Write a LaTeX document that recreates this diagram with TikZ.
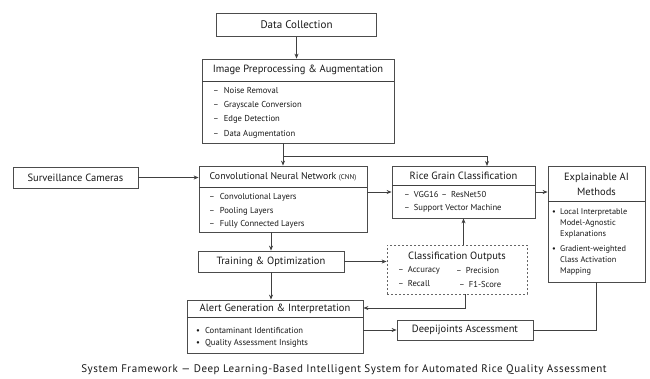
\documentclass[tikz,border=0pt]{standalone}
\usepackage{fontspec}
\setmainfont{PT Sans}
\usetikzlibrary{arrows.meta,calc}
\begin{document}
\begin{tikzpicture}[x=1pt,y=1pt,
  box/.style={draw=black!70,line width=0.8pt,fill=white,inner sep=0pt},
  dbox/.style={draw=black!60,line width=0.8pt,dashed,dash pattern=on 2pt off 2pt,fill=white,inner sep=0pt},
  ttl/.style={font=\fontsize{10.5}{12}\selectfont,text=black!90,inner sep=0pt},
  itm/.style={font=\fontsize{8.6}{11}\selectfont,text=black!90,anchor=west,inner sep=0pt},
  arr/.style={draw=black!75,line width=0.8pt,-{Stealth[length=5pt,width=4pt]}},
  ln/.style={draw=black!75,line width=0.8pt}]
\useasboundingbox[fill=white] (0,0) rectangle (650,-378);

% boxes
\node[box,minimum width=160,minimum height=23] (dc) at (296.5,-25) {};
\node[ttl,font=\fontsize{11}{13}\selectfont] at (dc) {Data Collection};

\node[box,minimum width=192,minimum height=84] (prep) at (298,-101) {};
\draw[ln] (202,-81) -- (394,-81);
\node[ttl] at (298,-70) {Image Preprocessing \& Augmentation};
\node[itm] at (213,-90) {–\hspace{5pt}Noise Removal};
\node[itm] at (213,-105) {–\hspace{5pt}Grayscale Conversion};
\node[itm] at (213,-119) {–\hspace{5pt}Edge Detection};
\node[itm] at (213,-134) {–\hspace{5pt}Data Augmentation};

\node[box,minimum width=125,minimum height=21] (surv) at (75.5,-177.5) {};
\node[ttl] at (surv) {Surveillance Cameras};

\node[box,minimum width=168,minimum height=66] (cnn) at (283,-199) {};
\draw[ln] (199,-187) -- (367,-187);
\node[ttl,font=\fontsize{9.8}{12}\selectfont] at (283,-177) {Convolutional Neural Network {\fontsize{7}{8}\selectfont(CNN)}};
\node[itm] at (209,-197) {–\hspace{5pt}Convolutional Layers};
\node[itm] at (209,-211) {–\hspace{5pt}Pooling Layers};
\node[itm] at (209,-224) {–\hspace{5pt}Fully Connected Layers};

\node[box,minimum width=146,minimum height=21] (train) at (271,-261.5) {};
\node[ttl] at (train) {Training \& Optimization};

\node[box,minimum width=143,minimum height=52] (rice) at (463.5,-192) {};
\draw[ln] (392,-185) -- (535,-185);
\node[ttl] at (463.5,-175.5) {Rice Grain Classification};
\node[itm] at (404,-194) {–\hspace{4pt}VGG16\hspace{3pt}–\hspace{4pt}ResNet50};
\node[itm] at (404,-208) {–\hspace{4pt}Support Vector Machine};

\node[box,minimum width=97,minimum height=116] (xai) at (596.5,-224) {};
\draw[ln] (548,-201) -- (645,-201);
\node[ttl,align=center,font=\fontsize{10.5}{15}\selectfont] at (596.5,-184) {Explainable AI\\Methods};
\node[itm,font=\fontsize{8.3}{11}\selectfont] at (552,-213) {•};
\node[itm,font=\fontsize{8.3}{11}\selectfont,anchor=north west,align=left] at (560,-208.5) {Local Interpretable\\Model-Agnostic\\Explanations};
\node[itm,font=\fontsize{8.3}{11}\selectfont] at (552,-250) {•};
\node[itm,font=\fontsize{8.3}{11}\selectfont,anchor=north west,align=left] at (560,-245.5) {Gradient-weighted\\Class Activation\\Mapping};

\node[dbox,minimum width=140,minimum height=49] (co) at (457,-269.5) {};
\node[ttl] at (457,-257) {Classification Outputs};
\node[itm] at (398,-270.5) {–\hspace{4pt}Accuracy};
\node[itm] at (456,-270.5) {–\hspace{4pt}Precision};
\node[itm] at (398,-284) {–\hspace{4pt}Recall};
\node[itm] at (459,-284) {–\hspace{4pt}F1-Score};

\node[box,minimum width=176,minimum height=53] (alert) at (275,-326.5) {};
\draw[ln] (187,-317) -- (363,-317);
\node[ttl] at (275,-308.5) {Alert Generation \& Interpretation};
\node[itm] at (196,-330) {•\hspace{5pt}Contaminant Identification};
\node[itm] at (196,-343) {•\hspace{5pt}Quality Assessment Insights};

\node[box,minimum width=136,minimum height=20] (dj) at (465,-330) {};
\node[ttl] at (dj) {Deepijoints Ascessment};

\node[inner sep=0pt,font=\fontsize{11}{13}\selectfont\addfontfeature{LetterSpace=5},text=black!90] (cap) at (344,-370) {System Framework — Deep Learning-Based Intelligent System for Automated Rice Quality Assessment};

% connectors
\draw[arr] (dc.south) -- (dc.south |- prep.north);
\coordinate (br) at (283,-156);
\coordinate (ricein) at (487,-166);
\draw[ln] (cnn.north |- prep.south) -- (br);
\draw[arr] (br) -- (cnn.north);
\draw[arr] (br) -| (ricein);
\draw[arr] (surv.east) -- (surv.east -| cnn.west);
\draw[arr] (rice.west -| cnn.east) -- (rice.west);
\draw[arr] (rice.east) -- (rice.east -| xai.west);
\draw[arr] (train.north |- cnn.south) -- (train.north);
\draw[arr] (train.south) -- (train.south |- alert.north);
\draw[arr] (train.east) -- (train.east -| co.west);
\draw[arr] (rice.south |- co.north) -- (rice.south);
\draw[arr] ([xshift=8pt]co.south) |- ([yshift=18.5pt]alert.east);
\draw[arr] (dj.west -| alert.east) -- (dj.west);
\draw[ln] (xai.south) |- (dj.east);
\end{tikzpicture}
\end{document}
